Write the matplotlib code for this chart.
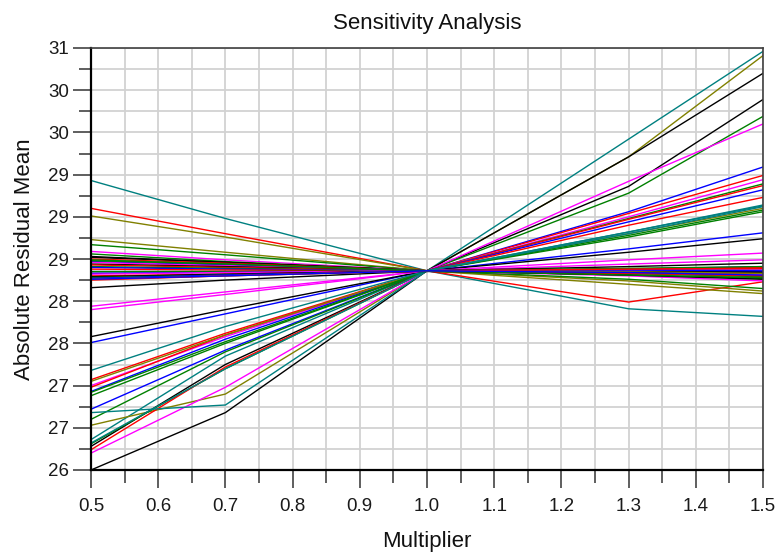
import matplotlib
matplotlib.use("Agg")
import matplotlib.pyplot as plt
from matplotlib.ticker import FixedLocator, MultipleLocator

plt.rcParams['font.family'] = ['Liberation Sans', 'DejaVu Sans']

# ---- data ----
multipliers = [0.5, 0.7, 1.0, 1.3, 1.5]
base_value = 28.36  # every parameter passes through this at multiplier 1.0

line_colors = [
    # rising lines
    'teal', 'olive', 'black', 'black', 'green', 'magenta', 'blue', 'red',
    'magenta', 'green', 'red', 'blue', 'red', 'teal', 'olive', 'green',
    'green', 'blue', 'black', 'magenta', 'magenta', 'black', 'teal', 'teal',
    # falling lines
    'teal', 'red', 'olive', 'olive', 'green', 'magenta', 'green', 'black',
    # near-flat cluster
    'black', 'red', 'green', 'blue', 'magenta', 'black', 'red', 'green',
    'blue', 'red', 'black', 'green', 'blue', 'magenta', 'red', 'black',
    'green', 'blue', 'olive', 'red', 'green', 'blue',
]

at_0_5 = [
    26.36, 26.53, 26.00, 26.28, 26.31, 26.20, 26.72, 26.24,
    27.00, 26.60, 26.98, 26.93, 27.07, 26.68, 27.05, 26.88,
    26.92, 27.51, 27.58, 27.94, 27.90, 28.16, 27.18, 26.32,
    29.43, 29.10, 29.01, 28.73, 28.67, 28.59, 28.56, 28.53,
    28.52, 28.50, 28.49, 28.47, 28.46, 28.44, 28.43, 28.41,
    28.40, 28.38, 28.36, 28.35, 28.33, 28.32, 28.30, 28.29,
    28.28, 28.27, 28.26, 28.25, 28.48, 28.26,
]

at_0_7 = [
    27.35, 26.90, 26.68, 27.25, 27.20, 26.98, 27.42, 27.22,
    27.58, 27.40, 27.60, 27.55, 27.62, 26.77, 27.60, 27.50,
    27.52, 27.85, 27.90, 28.11, 28.08, 28.25, 27.70, 27.20,
    28.98, 28.80, 28.76, 28.58, 28.55, 28.49, 28.47, 28.46,
    28.46, 28.45, 28.44, 28.43, 28.42, 28.41, 28.40, 28.39,
    28.38, 28.37, 28.36, 28.35, 28.34, 28.34, 28.32, 28.32,
    28.31, 28.31, 28.30, 28.30, 28.44, 28.30,
]

at_1_3 = [
    29.92, 29.71, 29.71, 29.36, 29.28, 29.42, 29.06, 29.04,
    29.00, 28.98, 28.97, 28.94, 28.90, 28.82, 28.80, 28.78,
    28.76, 28.62, 28.58, 28.49, 28.44, 28.41, 28.80, 28.82,
    27.91, 27.99, 28.20, 28.24, 28.26, 28.30, 28.31, 28.31,
    28.33, 28.37, 28.33, 28.38, 28.34, 28.38, 28.33, 28.37,
    28.35, 28.34, 28.36, 28.37, 28.38, 28.37, 28.38, 28.35,
    28.39, 28.37, 28.35, 28.38, 28.31, 28.34,
]

at_1_5 = [
    30.96, 30.91, 30.70, 30.39, 30.19, 30.10, 29.59, 29.49,
    29.44, 29.39, 29.37, 29.32, 29.23, 29.13, 29.10, 29.08,
    29.06, 28.81, 28.74, 28.57, 28.49, 28.45, 29.12, 29.14,
    27.82, 28.23, 28.09, 28.12, 28.15, 28.24, 28.27, 28.26,
    28.30, 28.38, 28.29, 28.40, 28.32, 28.39, 28.30, 28.37,
    28.34, 28.33, 28.36, 28.38, 28.41, 28.37, 28.40, 28.34,
    28.41, 28.36, 28.33, 28.39, 28.28, 28.31,
]

x_ticks = [0.5, 0.6, 0.7, 0.8, 0.9, 1.0, 1.1, 1.2, 1.3, 1.4, 1.5]
x_tick_labels = ['0.5', '0.6', '0.7', '0.8', '0.9', '1.0', '1.1', '1.2', '1.3', '1.4', '1.5']
y_ticks = [26.0, 26.5, 27.0, 27.5, 28.0, 28.5, 29.0, 29.5, 30.0, 30.5, 31.0]
y_tick_labels = ['26', '27', '27', '28', '28', '29', '29', '29', '30', '30', '31']

palette = {
    'black': '#000000', 'red': '#ff0000', 'green': '#008000', 'blue': '#0000ff',
    'magenta': '#ff00ff', 'olive': '#808000', 'teal': '#008080',
}

# ---- figure ----
fig = plt.figure(figsize=(7.78, 5.52), dpi=100)
ax = fig.add_axes([91 / 778, 82 / 552, 672 / 778, 422 / 552])

for i, c in enumerate(line_colors):
    ys = [at_0_5[i], at_0_7[i], base_value, at_1_3[i], at_1_5[i]]
    ax.plot(multipliers, ys, color=palette[c], lw=1.0, solid_joinstyle='miter')

ax.set_xlim(0.5, 1.5)
ax.set_ylim(26.0, 31.0)

ax.xaxis.set_major_locator(FixedLocator(x_ticks))
ax.set_xticklabels(x_tick_labels)
ax.xaxis.set_minor_locator(MultipleLocator(0.05))
ax.yaxis.set_major_locator(FixedLocator(y_ticks))
ax.set_yticklabels(y_tick_labels)
ax.yaxis.set_minor_locator(MultipleLocator(0.25))

ax.grid(which='both', color='#d2d2d2', lw=1.3)
ax.set_axisbelow(True)

ax.tick_params(which='major', direction='out', length=13, width=1.1, color='#333333',
               labelsize=13.5, labelcolor='#1a1a1a')
ax.tick_params(axis='x', which='major', pad=7)
ax.tick_params(axis='y', which='major', pad=3)
ax.tick_params(which='minor', direction='out', length=9, width=1.1, color='#333333')

for side in ['left', 'bottom']:
    ax.spines[side].set_linewidth(1.6)
    ax.spines[side].set_color('#000000')
for side in ['top', 'right']:
    ax.spines[side].set_linewidth(1.2)
    ax.spines[side].set_color('#404040')

ax.set_title('Sensitivity Analysis', fontsize=16, pad=14, color='#111111')
ax.set_xlabel('Multiplier', fontsize=16, labelpad=12, color='#111111')
ax.set_ylabel('Absolute Residual Mean', fontsize=16, labelpad=9, color='#111111')

fig.savefig('out.png', dpi=100)
